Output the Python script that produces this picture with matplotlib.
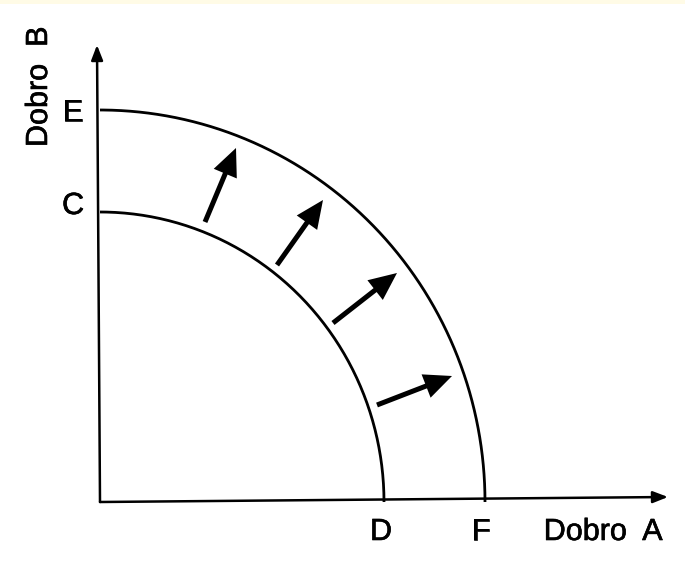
"""
Production possibility frontier shifting outward (C-D -> E-F).
Saves out.png at 685x585.
"""
import numpy as np
import matplotlib.pyplot as plt
import matplotlib.patheffects as pe
from matplotlib.patches import FancyArrowPatch, Rectangle

# frontier intercepts (x = Dobro A, y = Dobro B), 1 unit = 100 px
inner_x, inner_y = 2.84, 2.90   # D, C
outer_x, outer_y = 3.85, 3.92   # F, E

# shift arrows: tail -> head
arrow_tails = [(1.05, 2.80), (1.77, 2.37), (2.33, 1.79), (2.77, 0.97)]
arrow_heads = [(1.36, 3.54), (2.23, 3.02), (2.97, 2.29), (3.52, 1.26)]

# axis end points
x_axis_end = (5.68, 0.05)
y_axis_end = (-0.03, 4.57)

tick_labels = ["C", "E", "D", "F"]
x_label = "Dobro  A"
y_label = "Dobro  B"

plt.rcParams['font.family'] = ['Liberation Sans', 'DejaVu Sans']

fig = plt.figure(figsize=(6.85, 5.85), dpi=100)
fig.patch.set_facecolor('white')
# thin pale band along the top edge of the scan
fig.patches.append(Rectangle((0, 1 - 4 / 585), 1, 4 / 585, transform=fig.transFigure,
                             facecolor='#fffbe6', edgecolor='none', zorder=0))

ax = fig.add_axes([0, 0, 1, 1])
ax.set_xlim(-1.00, 5.85)
ax.set_ylim(-0.83, 5.02)
ax.axis('off')

# axes with arrow tips
for end in (x_axis_end, y_axis_end):
    ax.add_patch(FancyArrowPatch((0, 0), end, arrowstyle='-|>,head_length=9,head_width=3.5',
                                 mutation_scale=1, lw=1.8, color='black',
                                 shrinkA=0, shrinkB=0))

# frontiers as quarter ellipses
t = np.linspace(0, np.pi / 2, 200)
for rx, ry in ((inner_x, inner_y), (outer_x, outer_y)):
    ax.plot(rx * np.cos(t), ry * np.sin(t), color='black', lw=2.0,
            solid_capstyle='butt')

# outward shift arrows
for tail, head in zip(arrow_tails, arrow_heads):
    ax.add_patch(FancyArrowPatch(tail, head,
                                 arrowstyle='simple,head_length=20,head_width=18,tail_width=3.6',
                                 mutation_scale=1, lw=0, color='black',
                                 shrinkA=0, shrinkB=0))

# scanned text looks a touch heavier than plain Liberation Sans
thick = [pe.withStroke(linewidth=0.45, foreground='black')]
fs = 22
kw = dict(fontsize=fs, ha='center', va='center', path_effects=thick)
ax.text(-0.27, inner_y + 0.06, tick_labels[0], **kw)
ax.text(-0.27, outer_y - 0.03, tick_labels[1], **kw)
ax.text(inner_x - 0.03, -0.30, tick_labels[2], **kw)
ax.text(outer_x - 0.04, -0.30, tick_labels[3], **kw)
ax.text(5.03, -0.30, x_label, **kw)
ax.text(-0.61, 4.15, y_label, rotation=90, **kw)

fig.savefig('out.png', dpi=100)
